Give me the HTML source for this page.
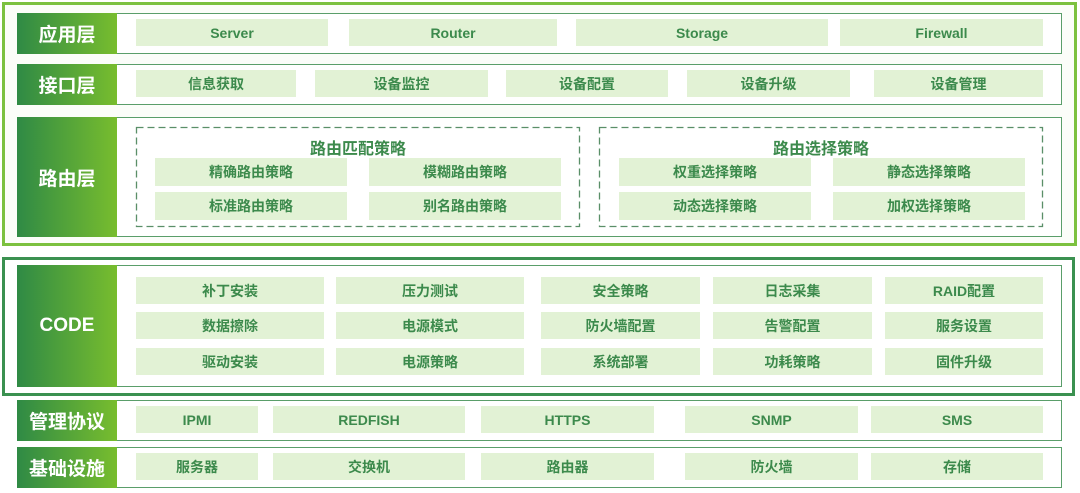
<!DOCTYPE html>
<html><head><meta charset="utf-8"><style>
body{margin:0;width:1080px;height:493px;background:#fff;position:relative;overflow:hidden;font-family:"Liberation Sans","Noto Sans CJK SC",sans-serif;}
div{position:absolute;box-sizing:border-box;}
.ob1{left:2px;top:2px;width:1075px;height:244px;border:3px solid #7cc13f;background:#fbfdf9;}
.ob2{left:2px;top:257px;width:1073px;height:139px;border:3px solid #3b9150;background:#fff;}
.row{left:17px;width:1045px;border:1.5px solid #5a9e6a;background:#fff;}
.lab{left:17px;width:100px;background:linear-gradient(90deg,#2f8a45,#78bd2e);color:#fff;font-weight:bold;font-size:19px;display:flex;align-items:center;justify-content:center;}
.b{background:#e2f2d5;color:#3c8a4c;font-weight:bold;font-size:14px;display:flex;align-items:center;justify-content:center;}
.t{color:#3c8a4c;font-weight:bold;font-size:16px;text-align:center;}
svg{position:absolute;}
</style></head><body>
<div class="ob1"></div>
<div class="ob2"></div>

<div class="row" style="top:13px;height:41px"></div>
<div class="lab" style="top:13px;height:41px">应用层</div>
<div class="b" style="left:136px;top:19px;width:192px;height:27px">Server</div>
<div class="b" style="left:349px;top:19px;width:208px;height:27px">Router</div>
<div class="b" style="left:576px;top:19px;width:252px;height:27px">Storage</div>
<div class="b" style="left:840px;top:19px;width:203px;height:27px">Firewall</div>

<div class="row" style="top:64px;height:41px"></div>
<div class="lab" style="top:64px;height:41px">接口层</div>
<div class="b" style="left:136px;top:70px;width:160px;height:27px">信息获取</div>
<div class="b" style="left:315px;top:70px;width:173px;height:27px">设备监控</div>
<div class="b" style="left:506px;top:70px;width:162px;height:27px">设备配置</div>
<div class="b" style="left:687px;top:70px;width:163px;height:27px">设备升级</div>
<div class="b" style="left:874px;top:70px;width:169px;height:27px">设备管理</div>

<div class="row" style="top:117px;height:120px"></div>
<div class="lab" style="top:117px;height:120px">路由层</div>
<svg width="1080" height="493" style="left:0;top:0">
<rect x="136.5" y="127.5" width="443" height="99" fill="none" stroke="#5a8f68" stroke-width="1.3" stroke-dasharray="7,4"/>
<rect x="599.5" y="127.5" width="443" height="99" fill="none" stroke="#5a8f68" stroke-width="1.3" stroke-dasharray="7,4"/>
</svg>
<div class="t" style="left:136px;top:135px;width:444px">路由匹配策略</div>
<div class="b" style="left:155px;top:158px;width:192px;height:28px">精确路由策略</div>
<div class="b" style="left:369px;top:158px;width:192px;height:28px">模糊路由策略</div>
<div class="b" style="left:155px;top:192px;width:192px;height:28px">标准路由策略</div>
<div class="b" style="left:369px;top:192px;width:192px;height:28px">别名路由策略</div>
<div class="t" style="left:599px;top:135px;width:444px">路由选择策略</div>
<div class="b" style="left:619px;top:158px;width:192px;height:28px">权重选择策略</div>
<div class="b" style="left:833px;top:158px;width:192px;height:28px">静态选择策略</div>
<div class="b" style="left:619px;top:192px;width:192px;height:28px">动态选择策略</div>
<div class="b" style="left:833px;top:192px;width:192px;height:28px">加权选择策略</div>

<div class="row" style="top:265px;height:122px"></div>
<div class="lab" style="top:265px;height:122px">CODE</div>
<div class="b" style="left:136px;top:277px;width:188px;height:27px">补丁安装</div>
<div class="b" style="left:336px;top:277px;width:188px;height:27px">压力测试</div>
<div class="b" style="left:541px;top:277px;width:159px;height:27px">安全策略</div>
<div class="b" style="left:713px;top:277px;width:159px;height:27px">日志采集</div>
<div class="b" style="left:885px;top:277px;width:158px;height:27px">RAID配置</div>
<div class="b" style="left:136px;top:312px;width:188px;height:27px">数据擦除</div>
<div class="b" style="left:336px;top:312px;width:188px;height:27px">电源模式</div>
<div class="b" style="left:541px;top:312px;width:159px;height:27px">防火墙配置</div>
<div class="b" style="left:713px;top:312px;width:159px;height:27px">告警配置</div>
<div class="b" style="left:885px;top:312px;width:158px;height:27px">服务设置</div>
<div class="b" style="left:136px;top:348px;width:188px;height:27px">驱动安装</div>
<div class="b" style="left:336px;top:348px;width:188px;height:27px">电源策略</div>
<div class="b" style="left:541px;top:348px;width:159px;height:27px">系统部署</div>
<div class="b" style="left:713px;top:348px;width:159px;height:27px">功耗策略</div>
<div class="b" style="left:885px;top:348px;width:158px;height:27px">固件升级</div>

<div class="row" style="top:400px;height:41px"></div>
<div class="lab" style="top:400px;height:41px">管理协议</div>
<div class="b" style="left:136px;top:406px;width:122px;height:27px">IPMI</div>
<div class="b" style="left:273px;top:406px;width:192px;height:27px">REDFISH</div>
<div class="b" style="left:481px;top:406px;width:173px;height:27px">HTTPS</div>
<div class="b" style="left:685px;top:406px;width:173px;height:27px">SNMP</div>
<div class="b" style="left:871px;top:406px;width:172px;height:27px">SMS</div>

<div class="row" style="top:447px;height:41px"></div>
<div class="lab" style="top:447px;height:41px">基础设施</div>
<div class="b" style="left:136px;top:453px;width:122px;height:27px">服务器</div>
<div class="b" style="left:273px;top:453px;width:192px;height:27px">交换机</div>
<div class="b" style="left:481px;top:453px;width:173px;height:27px">路由器</div>
<div class="b" style="left:685px;top:453px;width:173px;height:27px">防火墙</div>
<div class="b" style="left:871px;top:453px;width:172px;height:27px">存储</div>
</body></html>
